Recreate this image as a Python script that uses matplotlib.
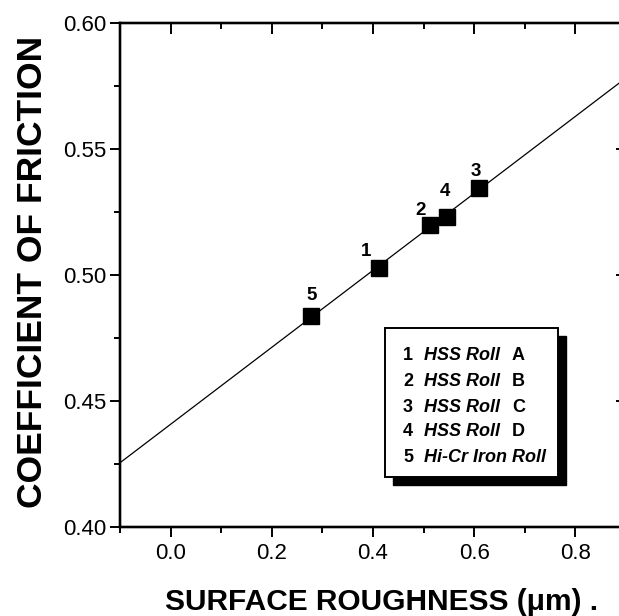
import numpy as np
import matplotlib
matplotlib.use("Agg")
import matplotlib.pyplot as plt
from matplotlib.patches import Rectangle
from matplotlib.ticker import MultipleLocator

plt.rcParams["font.family"] = ["Liberation Sans", "DejaVu Sans"]

# data
roughness = [0.411, 0.512, 0.609, 0.547, 0.278]
friction = [0.5027, 0.5197, 0.5343, 0.523, 0.4835]
point_ids = ["1", "2", "3", "4", "5"]
roll_names = ["HSS Roll", "HSS Roll", "HSS Roll", "HSS Roll", "Hi-Cr Iron Roll"]
roll_grades = ["A", "B", "C", "D", ""]

# label offsets in pixels (dx, dy) relative to each square
label_offsets = [(-13, 16), (-9, 15), (-3, 17), (-2, 25), (0, 21)]

W, H = 619, 616
fig = plt.figure(figsize=(W / 100, H / 100), dpi=100)
ax = fig.add_axes([120 / W, 1 - 526.7 / H, (626 - 120) / W, (526.7 - 22.7) / H])

# fitted line across the whole axis
slope, intercept = np.polyfit(roughness, friction, 1)
xs = np.array([-0.1, 0.9])
ax.plot(xs, slope * xs + intercept, color="black", lw=0.9)

ax.plot(roughness, friction, "s", color="black", ms=12, mec="black")

for pid, x, y, off in zip(point_ids, roughness, friction, label_offsets):
    ax.annotate(pid, (x, y), xytext=off, textcoords="offset pixels",
                ha="center", va="center", fontsize=13.5, fontweight="bold")

ax.set_xlim(-0.1, 0.9)
ax.set_ylim(0.40, 0.60)
ax.xaxis.set_minor_locator(MultipleLocator(0.1))
ax.yaxis.set_major_locator(MultipleLocator(0.05))
ax.yaxis.set_minor_locator(MultipleLocator(0.025))
ax.set_xticks([0.0, 0.2, 0.4, 0.6, 0.8])
ax.set_xticklabels(["0.0", "0.2", "0.4", "0.6", "0.8"])
ax.set_yticks([0.40, 0.45, 0.50, 0.55, 0.60])
ax.set_yticklabels(["0.40", "0.45", "0.50", "0.55", "0.60"])

for s in ax.spines.values():
    s.set_linewidth(1.6)

ax.tick_params(which="both", direction="out", bottom=True, left=True,
               labelsize=16, width=1.4)
ax.tick_params(axis="x", pad=5)
ax.tick_params(axis="y", pad=3)
ax.tick_params(which="major", length=7)
ax.tick_params(which="minor", length=4)
# inward ticks on top and right
ax2 = ax.twinx()
ax2.set_ylim(ax.get_ylim())
ax2.yaxis.set_major_locator(MultipleLocator(0.05))
ax2.yaxis.set_minor_locator(MultipleLocator(0.025))
ax2.tick_params(which="both", direction="in", labelright=False, width=1.4)
ax2.tick_params(which="major", length=7)
ax2.tick_params(which="minor", length=4)
ax3 = ax.twiny()
ax3.set_xlim(ax.get_xlim())
ax3.xaxis.set_major_locator(MultipleLocator(0.2))
ax3.xaxis.set_minor_locator(MultipleLocator(0.1))
ax3.tick_params(which="both", direction="in", labeltop=False, width=1.4)
ax3.tick_params(which="major", length=8)
ax3.tick_params(which="minor", length=4)
for a in (ax2, ax3):
    for s in a.spines.values():
        s.set_linewidth(1.6)

ax.set_xlabel("SURFACE ROUGHNESS (\u03bcm) .", fontsize=21.5, fontweight="bold")
ax.set_ylabel("COEFFICIENT OF FRICTION", fontsize=25.5, fontweight="bold")
ax.xaxis.set_label_coords(0.516, -0.122)
ax.yaxis.set_label_coords(-0.14, 0.505)

# legend box with drop shadow, drawn in figure pixels
def fx(px):
    return px / W

def fy(py):
    return 1 - py / H

box_l, box_t, box_r, box_b = 385, 328, 558, 477
shadow = Rectangle((fx(box_l + 8), fy(box_b + 8)), fx(box_r - box_l), (box_b - box_t) / H,
                   transform=fig.transFigure, facecolor="black", edgecolor="black", zorder=5)
box = Rectangle((fx(box_l), fy(box_b)), fx(box_r - box_l), (box_b - box_t) / H,
                transform=fig.transFigure, facecolor="white", edgecolor="black", lw=1.4, zorder=6)
fig.patches.extend([shadow, box])

row_y = [356, 381, 407, 432, 457]
for pid, name, grade, yy in zip(point_ids, roll_names, roll_grades, row_y):
    fig.text(fx(403), fy(yy), pid, fontsize=13, fontweight="bold", va="center", zorder=7)
    fig.text(fx(424), fy(yy), name, fontsize=13, fontweight="bold", fontstyle="italic",
             va="center", zorder=7)
    if grade:
        fig.text(fx(512), fy(yy), grade, fontsize=13, fontweight="bold", va="center", zorder=7)

fig.savefig("out.png", dpi=100)
